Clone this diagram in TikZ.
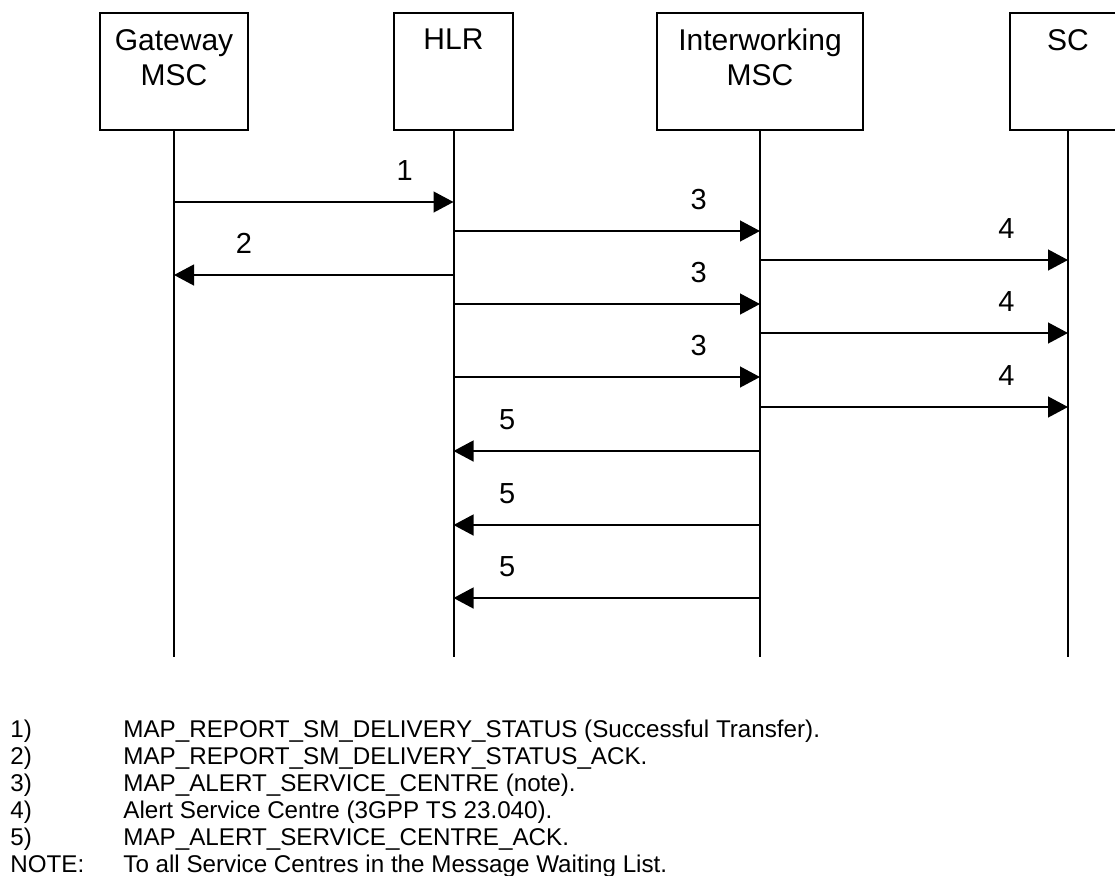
\documentclass[tikz,border=0pt]{standalone}
\usepackage{fontspec}
\setmainfont{Liberation Sans}
\usetikzlibrary{arrows.meta,positioning}

\begin{document}
\begin{tikzpicture}[x=0.5pt,y=-0.5pt,
  entity/.style={rectangle,draw=black,line width=1.3pt,minimum height=58.5pt,inner sep=0pt},
  entname/.style={anchor=north,yshift=-8.5pt,align=center,inner sep=0pt,
    font=\fontsize{15}{17.5}\selectfont},
  life/.style={line width=1pt},
  msg/.style={-{Triangle[length=10pt,width=10.4pt]},line width=1pt},
  num/.style={anchor=base,yshift=11pt,inner sep=0pt,font=\fontsize{14.5}{17}\selectfont},
  note/.style={anchor=base west,inner sep=0pt,font=\fontsize{12.1}{14}\selectfont},
]
  \useasboundingbox (0,0) rectangle (1115,875);
  % entities
  \node[entity,minimum width=74pt,label={[entname]north:Gateway\\MSC}] (gw) at (174,71.5) {};
  \node[entity,minimum width=59.5pt,label={[entname]north:HLR}] (hlr) at (453.5,71.5) {};
  \node[entity,minimum width=103pt,label={[entname]north:Interworking\\MSC}] (iw) at (760,71.5) {};
  \node[entity,minimum width=58pt,label={[entname]north:SC}] (sc) at (1068,71.5) {};
  % lifelines
  \coordinate (gwend) at (gw |- 0,657);
  \coordinate (hlrend) at (hlr |- 0,657);
  \coordinate (iwend) at (iw |- 0,657);
  \coordinate (scend) at (sc |- 0,657);
  \draw[life] (gw) -- (gwend);
  \draw[life] (hlr) -- (hlrend);
  \draw[life] (iw) -- (iwend);
  \draw[life] (sc) -- (scend);
  % messages
  \draw[msg] (gw |- 0,202) -- node[num,pos=0.825]{1} (hlr |- 0,202);
  \draw[msg] (hlr |- 0,231) -- node[num,pos=0.8]{3} (iw |- 0,231);
  \draw[msg] (iw |- 0,260) -- node[num,pos=0.8]{4} (sc |- 0,260);
  \draw[msg] (hlr |- 0,275) -- node[num,pos=0.75]{2} (gw |- 0,275);
  \draw[msg] (hlr |- 0,304) -- node[num,pos=0.8]{3} (iw |- 0,304);
  \draw[msg] (iw |- 0,333) -- node[num,pos=0.8]{4} (sc |- 0,333);
  \draw[msg] (hlr |- 0,377) -- node[num,pos=0.8]{3} (iw |- 0,377);
  \draw[msg] (iw |- 0,407) -- node[num,pos=0.8]{4} (sc |- 0,407);
  \draw[msg] (iw |- 0,451) -- node[num,pos=0.825]{5} (hlr |- 0,451);
  \draw[msg] (iw |- 0,525) -- node[num,pos=0.825]{5} (hlr |- 0,525);
  \draw[msg] (iw |- 0,598) -- node[num,pos=0.825]{5} (hlr |- 0,598);
  % legend
  \node[note] (k1) at (10,737) {1)};
  \node[note] (t1) at (123,737) {MAP\_REPORT\_SM\_DELIVERY\_STATUS (Successful Transfer).};
  \node[note] (k2) at (10,764) {2)};
  \node[note] (t2) at (123,764) {MAP\_REPORT\_SM\_DELIVERY\_STATUS\_ACK.};
  \node[note] (k3) at (10,791) {3)};
  \node[note] (t3) at (123,791) {MAP\_ALERT\_SERVICE\_CENTRE (note).};
  \node[note] (k4) at (10,818) {4)};
  \node[note] (t4) at (123,818) {Alert Service Centre (3GPP TS 23.040).};
  \node[note] (k5) at (10,845) {5)};
  \node[note] (t5) at (123,845) {MAP\_ALERT\_SERVICE\_CENTRE\_ACK.};
  \node[note] (k6) at (10,872) {NOTE:};
  \node[note] (t6) at (123,872) {To all Service Centres in the Message Waiting List.};
\end{tikzpicture}
\end{document}
